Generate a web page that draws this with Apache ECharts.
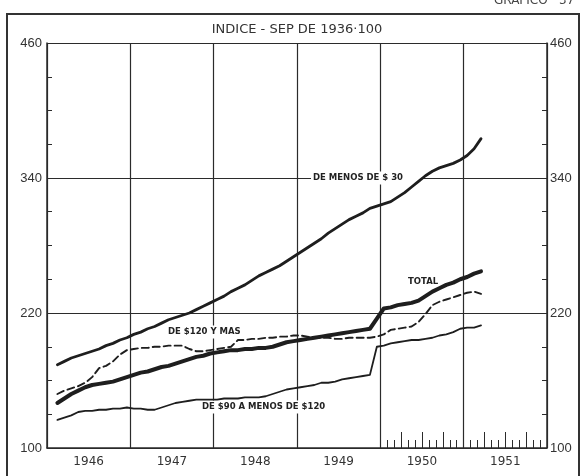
<!DOCTYPE html>
<html>
<head>
<meta charset="utf-8">
<script src="https://cdn.jsdelivr.net/npm/echarts@6/dist/echarts.min.js"></script>
<style>
html,body{margin:0;padding:0;background:#fff}
#chart{width:582px;height:476px}
</style>
</head>
<body>
<div id="chart"></div>
<script>
// indices, base sep 1936 = 100 ; monthly values feb 1946 - mar 1951
var years = ['1946', '1947', '1948', '1949', '1950', '1951'];
var firstMonth = '1946-02';

var menos30 = [174,177,180,182,184,186,188,191,193,196,198,201,
	203,206,208,211,214,216,218,220,223,226,229,232,
	235,239,242,245,249,253,256,259,262,266,270,274,
	278,282,286,291,295,299,303,306,309,313,315,317,
	319,323,327,332,337,342,346,349,351,353,356,360,366,375];
var total = [140,144,148,151,154,156,157,158,159,161,163,165,
	167,168,170,172,173,175,177,179,181,182,184,185,
	186,187,187,188,188,189,189,190,192,194,195,196,
	197,198,199,200,201,202,203,204,205,206,215,224,
	225,227,228,229,231,235,239,242,245,247,250,252,255,257];
var mas120 = [148,151,153,155,158,163,171,173,177,183,187,188,
	189,189,190,190,191,191,191,188,186,186,187,188,
	189,190,196,196,197,197,198,198,199,199,200,200,
	199,198,198,198,197,197,198,198,198,198,199,201,
	205,206,207,208,212,219,227,230,232,234,236,238,239,237];
var de90 = [125,127,129,132,133,133,134,134,135,135,136,135,
	135,134,134,136,138,140,141,142,143,143,143,143,
	144,144,144,145,145,145,146,148,150,152,153,154,
	155,156,158,158,159,161,162,163,164,165,190,191,
	193,194,195,196,196,197,198,200,201,203,206,207,207,209];

var months = [];
years.forEach(function (y) {
	for (var m = 1; m <= 12; m++) months.push(y + '-' + (m < 10 ? '0' + m : m));
});

function pad(arr) {
	var start = months.indexOf(firstMonth);
	var out = [];
	for (var i = 0; i < start; i++) out.push(null);
	return out.concat(arr);
}

var ink = '#2b2b2b';
var chart = echarts.init(document.getElementById('chart'));

function yAx(pos) {
	return {
		type: 'value', position: pos, min: 100, max: 460, interval: 120,
		axisLine: {show: true, lineStyle: {color: ink, width: 1.5}},
		axisTick: {show: true, inside: true, length: 5, lineStyle: {color: ink}},
		minorTick: {show: true, splitNumber: 4, length: 5, lineStyle: {color: ink, width: 1}},
		axisLabel: {color: '#333', fontSize: 13, fontFamily: 'Liberation Sans', margin: pos == 'left' ? 5 : 3},
		splitLine: {show: pos == 'left', lineStyle: {color: ink, width: 1.2}}
	};
}

var line = function (name, data, width, type) {
	return {
		name: name, type: 'line', data: pad(data), showSymbol: false, symbol: 'none',
		lineStyle: {color: '#1e1e1e', width: width, type: type || 'solid', cap: 'round', join: 'round'},
		z: 3
	};
};

function label(text, x, y, pad) {
	return {
		type: 'text', x: x, y: y, z: 1,
		style: {
			text: text, fill: '#222', font: 'bold 8.5px "DejaVu Sans"',
			verticalAlign: 'middle', backgroundColor: '#fff', padding: pad || [2, 2, 2, 2]
		}
	};
}

chart.setOption({
	backgroundColor: '#fff',
	animation: false,
	grid: {left: 47, right: 35, top: 43, bottom: 28},
	xAxis: [{
		type: 'category', data: months, boundaryGap: true,
		axisLine: {lineStyle: {color: ink, width: 1.5}},
		axisTick: {show: true, inside: true, length: 8, lineStyle: {color: ink},
			interval: function (i) { return i > 48 && i % 3 != 0; }},
		axisLabel: {
			interval: function (i) { return i % 12 == 6; },
			formatter: function (v, i) { return years[Math.floor(i / 12)]; },
			color: '#333', fontSize: 12, fontFamily: 'DejaVu Sans', margin: 8, padding: [0, 7, 0, 0]
		},
		splitLine: {show: true, interval: function (i) { return i % 12 == 0; },
			lineStyle: {color: ink, width: 1.2}}
	}, {
		type: 'category', data: months, boundaryGap: true, position: 'bottom',
		axisLine: {show: false},
		axisTick: {show: true, inside: true, length: 16, lineStyle: {color: ink},
			interval: function (i) { return i > 48 && i % 12 != 0 && i % 3 == 0; }},
		axisLabel: {show: false},
		splitLine: {show: false}
	}],
	yAxis: [yAx('left'), yAx('right')],
	series: [
		line('DE MENOS DE $30', menos30, 2.8),
		line('TOTAL', total, 4),
		line('DE $120 Y MAS', mas120, 1.9, [7, 4]),
		line('DE $90 A MENOS DE $120', de90, 1.8)
	],
	graphic: [
		{type: 'rect', z: 0, shape: {x: 7, y: 14, width: 572, height: 480},
			style: {fill: 'none', stroke: '#333', lineWidth: 2}},
		{type: 'text', x: 297, y: 30, z: 1, style: {text: 'INDICE - SEP DE 1936·100', fill: '#333',
			font: '13px "DejaVu Sans"', align: 'center', verticalAlign: 'middle'}},
		{type: 'text', x: 494, y: 1, z: 1, style: {text: 'GRAFICO   37', fill: '#444',
			font: '12px "DejaVu Sans"', verticalAlign: 'middle'}},
		label('DE MENOS DE $ 30', 311, 178, [2, 18, 2, 2]),
		label('TOTAL', 406, 282),
		label('DE $120 Y MAS', 166, 332),
		label('DE $90 A MENOS DE $120', 200, 407)
	]
});
</script>
</body>
</html>
